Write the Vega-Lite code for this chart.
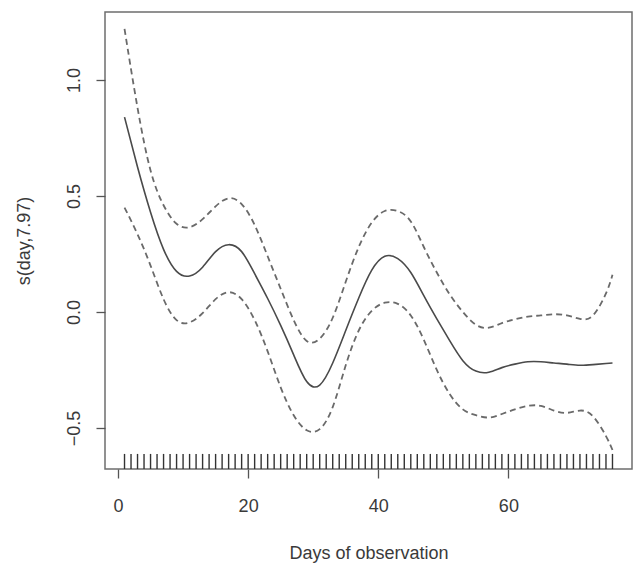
{
  "$schema": "https://vega.github.io/schema/vega-lite/v6.json",
  "autosize": {"type": "none"},
  "width": 527,
  "height": 457,
  "padding": {"left": 105, "top": 12, "right": 5, "bottom": 94},
  "background": "white",
  "config": {
    "view": {"stroke": "#6e6e6e", "strokeWidth": 1.5},
    "font": "Liberation Sans",
    "axis": {
      "domain": false,
      "grid": false,
      "tickColor": "#555555",
      "tickWidth": 1.3,
      "tickSize": 9,
      "labelFont": "Liberation Sans",
      "labelFontSize": 18,
      "labelColor": "#3a3a3a",
      "titleFont": "Liberation Sans",
      "titleFontSize": 18,
      "titleFontWeight": "normal",
      "titleColor": "#3a3a3a"
    }
  },
  "datasets": {
    "curve": [
      {"day": 1, "fit": 0.84, "upper": 1.22, "lower": 0.45},
      {"day": 3, "fit": 0.625, "upper": 0.88, "lower": 0.335},
      {"day": 5, "fit": 0.43, "upper": 0.61, "lower": 0.2},
      {"day": 7, "fit": 0.27, "upper": 0.46, "lower": 0.055},
      {"day": 9, "fit": 0.175, "upper": 0.38, "lower": -0.035},
      {"day": 11, "fit": 0.155, "upper": 0.365, "lower": -0.045},
      {"day": 13, "fit": 0.193, "upper": 0.4, "lower": -0.005},
      {"day": 15, "fit": 0.26, "upper": 0.455, "lower": 0.055},
      {"day": 17, "fit": 0.29, "upper": 0.49, "lower": 0.085},
      {"day": 19, "fit": 0.26, "upper": 0.465, "lower": 0.055},
      {"day": 21, "fit": 0.165, "upper": 0.375, "lower": -0.035},
      {"day": 23, "fit": 0.058, "upper": 0.24, "lower": -0.17},
      {"day": 25, "fit": -0.058, "upper": 0.1, "lower": -0.325},
      {"day": 27, "fit": -0.185, "upper": -0.035, "lower": -0.445},
      {"day": 29, "fit": -0.3, "upper": -0.125, "lower": -0.51},
      {"day": 31, "fit": -0.315, "upper": -0.115, "lower": -0.505},
      {"day": 33, "fit": -0.22, "upper": -0.025, "lower": -0.41},
      {"day": 35, "fit": -0.08, "upper": 0.13, "lower": -0.23},
      {"day": 37, "fit": 0.06, "upper": 0.28, "lower": -0.08},
      {"day": 39, "fit": 0.18, "upper": 0.385, "lower": 0.005},
      {"day": 41, "fit": 0.24, "upper": 0.435, "lower": 0.04},
      {"day": 43, "fit": 0.23, "upper": 0.435, "lower": 0.035},
      {"day": 45, "fit": 0.17, "upper": 0.39, "lower": -0.015},
      {"day": 47, "fit": 0.07, "upper": 0.28, "lower": -0.12},
      {"day": 49, "fit": -0.03, "upper": 0.17, "lower": -0.25},
      {"day": 51, "fit": -0.125, "upper": 0.075, "lower": -0.355},
      {"day": 53, "fit": -0.21, "upper": 0.0, "lower": -0.42},
      {"day": 55, "fit": -0.255, "upper": -0.055, "lower": -0.445},
      {"day": 57, "fit": -0.26, "upper": -0.068, "lower": -0.455},
      {"day": 59, "fit": -0.24, "upper": -0.048, "lower": -0.44},
      {"day": 61, "fit": -0.225, "upper": -0.032, "lower": -0.42},
      {"day": 63, "fit": -0.215, "upper": -0.02, "lower": -0.405},
      {"day": 65, "fit": -0.215, "upper": -0.015, "lower": -0.405},
      {"day": 67, "fit": -0.22, "upper": -0.01, "lower": -0.425},
      {"day": 69, "fit": -0.225, "upper": -0.015, "lower": -0.435},
      {"day": 71, "fit": -0.23, "upper": -0.03, "lower": -0.425},
      {"day": 73, "fit": -0.227, "upper": -0.015, "lower": -0.45},
      {"day": 75, "fit": -0.222, "upper": 0.08, "lower": -0.535},
      {"day": 76, "fit": -0.22, "upper": 0.16, "lower": -0.595}
    ],
    "rug": [
      {"day": 1}, {"day": 2}, {"day": 3}, {"day": 4}, {"day": 5}, {"day": 6}, {"day": 7}, {"day": 8},
      {"day": 9}, {"day": 10}, {"day": 11}, {"day": 12}, {"day": 13}, {"day": 14}, {"day": 15}, {"day": 16},
      {"day": 17}, {"day": 18}, {"day": 19}, {"day": 20}, {"day": 21}, {"day": 22}, {"day": 23}, {"day": 24},
      {"day": 25}, {"day": 26}, {"day": 27}, {"day": 28}, {"day": 29}, {"day": 30}, {"day": 31}, {"day": 32},
      {"day": 33}, {"day": 34}, {"day": 35}, {"day": 36}, {"day": 37}, {"day": 38}, {"day": 39}, {"day": 40},
      {"day": 41}, {"day": 42}, {"day": 43}, {"day": 44}, {"day": 45}, {"day": 46}, {"day": 47}, {"day": 48},
      {"day": 49}, {"day": 50}, {"day": 51}, {"day": 52}, {"day": 53}, {"day": 54}, {"day": 55}, {"day": 56},
      {"day": 57}, {"day": 58}, {"day": 59}, {"day": 60}, {"day": 61}, {"day": 62}, {"day": 63}, {"day": 64},
      {"day": 65}, {"day": 66}, {"day": 67}, {"day": 68}, {"day": 69}, {"day": 70}, {"day": 71}, {"day": 72},
      {"day": 73}, {"day": 74}, {"day": 75}, {"day": 76}
    ]
  },
  "layer": [
    {
      "data": {"name": "rug"},
      "mark": {"type": "rule", "color": "#333333", "strokeWidth": 1.4},
      "encoding": {
        "x": {"field": "day", "type": "quantitative"},
        "y": {"datum": -0.677, "type": "quantitative"},
        "y2": {"datum": -0.612}
      }
    },
    {
      "data": {"name": "curve"},
      "mark": {"type": "line", "interpolate": "natural", "color": "#6a6a6a", "strokeWidth": 1.8, "strokeDash": [6, 4]},
      "encoding": {
        "x": {"field": "day", "type": "quantitative"},
        "y": {"field": "upper", "type": "quantitative"}
      }
    },
    {
      "data": {"name": "curve"},
      "mark": {"type": "line", "interpolate": "natural", "color": "#6a6a6a", "strokeWidth": 1.8, "strokeDash": [6, 4]},
      "encoding": {
        "x": {"field": "day", "type": "quantitative"},
        "y": {"field": "lower", "type": "quantitative"}
      }
    },
    {
      "data": {"name": "curve"},
      "mark": {"type": "line", "interpolate": "natural", "color": "#4a4a4a", "strokeWidth": 1.6},
      "encoding": {
        "x": {
          "field": "day",
          "type": "quantitative",
          "title": "Days of observation",
          "scale": {"domain": [-2, 79], "nice": false, "zero": false},
          "axis": {"values": [0, 20, 40, 60], "labelPadding": 19, "titlePadding": 29}
        },
        "y": {
          "field": "fit",
          "type": "quantitative",
          "title": "s(day,7.97)",
          "scale": {"domain": [-0.677, 1.293], "nice": false, "zero": false},
          "axis": {"values": [-0.5, 0, 0.5, 1], "format": ".1f", "labelAngle": -90, "labelPadding": 13, "titlePadding": 32}
        }
      }
    }
  ]
}
